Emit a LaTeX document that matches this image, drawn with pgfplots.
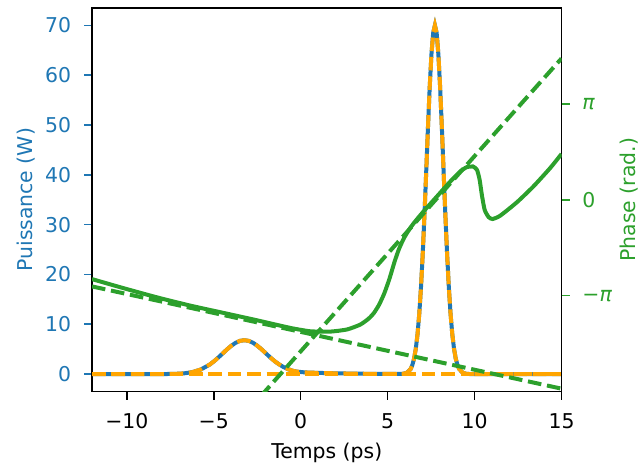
\documentclass[border=0pt]{standalone}
\usepackage{fontspec}
\setmainfont{DejaVu Sans}
\usepackage{pgfplots}
\pgfplotsset{compat=1.18}
\definecolor{mblue}{HTML}{1F77B4}
\definecolor{mgreen}{HTML}{2CA02C}
\definecolor{morange}{HTML}{FFA500}
\begin{document}
\begin{tikzpicture}[font=\fontsize{10.2}{12}\selectfont]
\pgfplotsset{
  base/.style={
    at={(0,0)}, anchor=south west, scale only axis,
    width=234.75pt, height=191.75pt,
    xmin=-12, xmax=15,
    tick align=outside, major tick length=4pt,
    axis line style={black, line width=0.9pt},
  },
  dsh/.style={dash pattern=on 6.8pt off 2.9pt},
}
% ---------- power axis ----------
\begin{axis}[base,
  ymin=-3.5, ymax=73.5,
  xtick={-10,-5,0,5,10,15}, xticklabels={−10,−5,0,5,10,15},
  ytick={0,10,20,30,40,50,60,70}, yticklabels={0,10,20,30,40,50,60,70},
  xtick pos=bottom, ytick pos=left,
  x tick style={black, line width=0.8pt},
  y tick style={mblue, line width=0.8pt},
  xticklabel style={anchor=north, inner sep=0pt, yshift=-6.75pt},
  yticklabel style={anchor=east, inner sep=0pt, xshift=-6.25pt, text=mblue},
  xlabel={Temps (ps)}, ylabel={Puissance (W)},
  every axis x label/.style={at={([yshift=-33.4pt]rel axis cs:0.5,0)}, anchor=base},
  every axis y label/.style={at={([xshift=-29.85pt]rel axis cs:0,0.5)}, rotate=90, anchor=base, text=mblue},
]
\addplot[mblue, line width=2pt] coordinates {
(-12,0) (-9,0) (-8,0.005) (-7.74,0.01) (-7.24,0.04) (-6.74,0.13) (-6.24,0.38) (-5.74,0.92)
(-5.24,1.89) (-4.99,2.55) (-4.74,3.31) (-4.49,4.12) (-4.24,4.94) (-3.99,5.68) (-3.74,6.28)
(-3.49,6.67) (-3.24,6.8) (-2.99,6.67) (-2.74,6.28) (-2.49,5.68) (-2.24,4.94) (-1.99,4.12)
(-1.74,3.31) (-1.49,2.57) (-1.24,1.95) (-0.99,1.42) (-0.74,1.0) (-0.49,0.7) (-0.24,0.5)
(0.26,0.33) (1,0.24) (2,0.15) (3,0.09) (4,0.05) (5,0.03) (5.5,0.02) (5.72,0.03) (5.92,0.08)
(6.12,0.28) (6.32,0.99) (6.42,1.79) (6.52,3.07) (6.62,5.07) (6.72,7.99) (6.82,12.07)
(6.92,17.46) (7.02,24.17) (7.12,32.05) (7.22,40.69) (7.32,49.47) (7.42,57.58) (7.52,64.18)
(7.62,68.50) (7.72,70) (7.82,68.5) (7.92,64.18) (8.02,57.58) (8.12,49.47) (8.22,40.69)
(8.32,32.05) (8.42,24.17) (8.52,17.46) (8.62,12.07) (8.72,7.99) (8.82,5.07) (8.92,3.07)
(9.02,1.79) (9.12,0.99) (9.32,0.27) (9.52,0.06) (9.72,0.01) (10,0) (15,0)
};
\addplot[morange, line width=2pt, dsh] coordinates {
(-12,0) (-9,0) (-8,0.005) (-7.74,0.01) (-7.24,0.04) (-6.74,0.13) (-6.24,0.38) (-5.74,0.92)
(-5.24,1.89) (-4.99,2.55) (-4.74,3.31) (-4.49,4.12) (-4.24,4.94) (-3.99,5.68) (-3.74,6.28)
(-3.49,6.67) (-3.24,6.8) (-2.99,6.67) (-2.74,6.28) (-2.49,5.68) (-2.24,4.94) (-1.99,4.12)
(-1.74,3.31) (-1.49,2.57) (-1.24,1.95) (-0.99,1.42) (-0.74,1.0) (-0.49,0.7) (-0.24,0.5)
(0.26,0.33) (1,0.24) (2,0.15) (3,0.09) (4,0.05) (5,0.03) (5.5,0.02) (5.72,0.03) (5.92,0.08)
(6.12,0.28) (6.32,0.99) (6.42,1.79) (6.52,3.07) (6.62,5.07) (6.72,7.99) (6.82,12.07)
(6.92,17.46) (7.02,24.17) (7.12,32.05) (7.22,40.69) (7.32,49.47) (7.42,57.58) (7.52,64.18)
(7.62,68.50) (7.72,70) (7.82,68.5) (7.92,64.18) (8.02,57.58) (8.12,49.47) (8.22,40.69)
(8.32,32.05) (8.42,24.17) (8.52,17.46) (8.62,12.07) (8.72,7.99) (8.82,5.07) (8.92,3.07)
(9.02,1.79) (9.12,0.99) (9.32,0.27) (9.52,0.06) (9.72,0.01) (10,0) (15,0)
};
\addplot[morange, line width=2pt, dsh] coordinates {(-12,0) (15,0)};
\end{axis}
% ---------- phase axis ----------
\begin{axis}[base,
  ymin=-6.2832, ymax=6.2832,
  axis x line=none, axis y line*=right,
  ytick={-3.14159,0,3.14159}, yticklabels={−{\itshape π},0,{\itshape π}},
  y tick style={mgreen, line width=0.8pt},
  yticklabel style={anchor=west, inner sep=0pt, xshift=6.25pt, text=mgreen},
  ylabel={Phase (rad.)},
  every axis y label/.style={at={([xshift=37.2pt]rel axis cs:1,0.5)}, rotate=90, anchor=base, text=mgreen},
]
\addplot[mgreen, line width=2pt, smooth, tension=0.35] coordinates {
(-12,-2.60) (-10.17,-2.90) (-8.25,-3.20) (-6.34,-3.47) (-4.42,-3.71) (-2.51,-3.95)
(-0.59,-4.20) (0.56,-4.31) (1.71,-4.32) (2.67,-4.25) (3.43,-4.09) (3.9,-3.90) (4.2,-3.72)
(4.5,-3.45) (4.8,-3.08) (5.1,-2.60) (5.4,-2.03) (5.65,-1.62) (5.92,-1.28) (6.2,-1.01)
(6.50,-0.77) (7.07,-0.38) (7.84,0.11) (8.61,0.60) (9.18,0.93) (9.56,1.07) (9.91,1.09)
(10.14,0.98) (10.29,0.66) (10.42,0.16) (10.58,-0.33) (10.81,-0.57) (11.04,-0.63)
(11.48,-0.52) (12.44,-0.08) (13.39,0.44) (14.35,1.04) (15,1.50)
};
\addplot[mgreen, line width=2pt, dsh] coordinates {(-12,-2.84) (15,-6.19)};
\addplot[mgreen, line width=2pt, dsh] coordinates {(-2.3,-6.44) (15,4.63)};
\end{axis}
\pgfresetboundingbox
\path[use as bounding box] (-46pt,-37.25pt) rectangle (274pt,195.75pt);
\end{tikzpicture}
\end{document}
